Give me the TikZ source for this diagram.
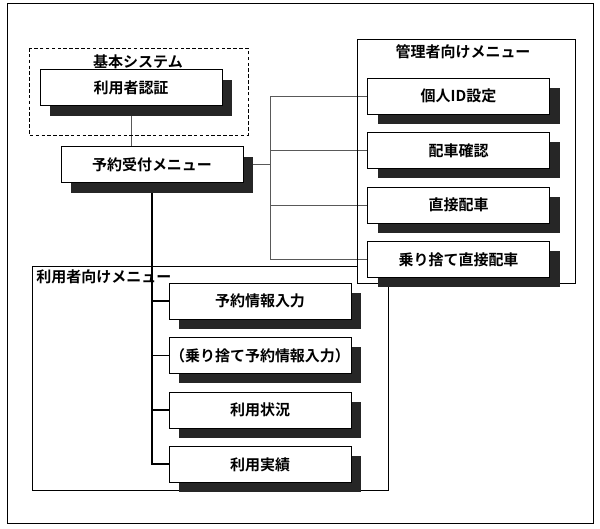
\documentclass[tikz,border=0pt]{standalone}
\usepackage{fontspec}
\setmainfont{Noto Sans CJK JP}[BoldFont=* Bold]
\usetikzlibrary{positioning,shadows,backgrounds}

\begin{document}
\begin{tikzpicture}[x=0.03cm,y=-0.03cm,line join=miter,
  font=\fontsize{12.8}{15}\selectfont\bfseries,node distance=5.4mm,
  box/.style={draw,fill=white,minimum width=54.6mm,minimum height=10.8mm,inner sep=0pt,
    drop shadow={shadow xshift=3mm,shadow yshift=-3mm,fill=black!85,opacity=1}},
  grp/.style={draw,line width=0.6pt},
  ttl/.style={inner sep=1pt},
  link/.style={draw=black!65,line width=0.5pt},
  trunk/.style={line width=1.6pt}]
\useasboundingbox (0,0) rectangle (600,528);
\draw[grp] (7,3) rectangle (593,523);
\draw[grp,densely dashed] (29,48) rectangle (248,135);
\draw[grp] (357,39) rectangle (575,283);
\draw[grp] (357,266) -- (32,266) -- (32,490) -- (388,490) -- (388,283);
\node[ttl] (tbase) at (138,62) {基本システム};
\node[ttl] (tadm) at (463,52) {管理者向けメニュー};
\node[ttl,anchor=west] (tusr) at (35,277) {利用者向けメニュー};
\node[box] (auth) at (131,87.5) {利用者認証};
\node[box] (rsv) at (152,164.5) {予約受付メニュー};
\node[box] (a1) at (458.5,96) {個人ID設定};
\node[box,below=of a1] (a2) {配車確認};
\node[box,below=of a2] (a3) {直接配車};
\node[box,below=of a3] (a4) {乗り捨て直接配車};
\node[box] (u1) at (260,301) {予約情報入力};
\node[box,below=of u1] (u2) {（乗り捨て予約情報入力）};
\node[box,below=of u2] (u3) {利用状況};
\node[box,below=of u3] (u4) {利用実績};
\coordinate (hub) at (270,0);
\begin{scope}[on background layer]
\draw[link] (auth.south) -- (auth.south |- rsv.north);
\draw[link] (rsv.east) -- (rsv.east -| hub);
\draw[link] (a1.west -| hub) -- (a4.west -| hub);
\foreach \i in {1,...,4} \draw[link] (a\i.west -| hub) -- (a\i.west);
\draw[trunk] (rsv.south) |- (u4.west);
\foreach \i in {1,2,3} \draw[trunk] (rsv.south |- u\i.west) -- (u\i.west);
\end{scope}
\end{tikzpicture}
\end{document}
